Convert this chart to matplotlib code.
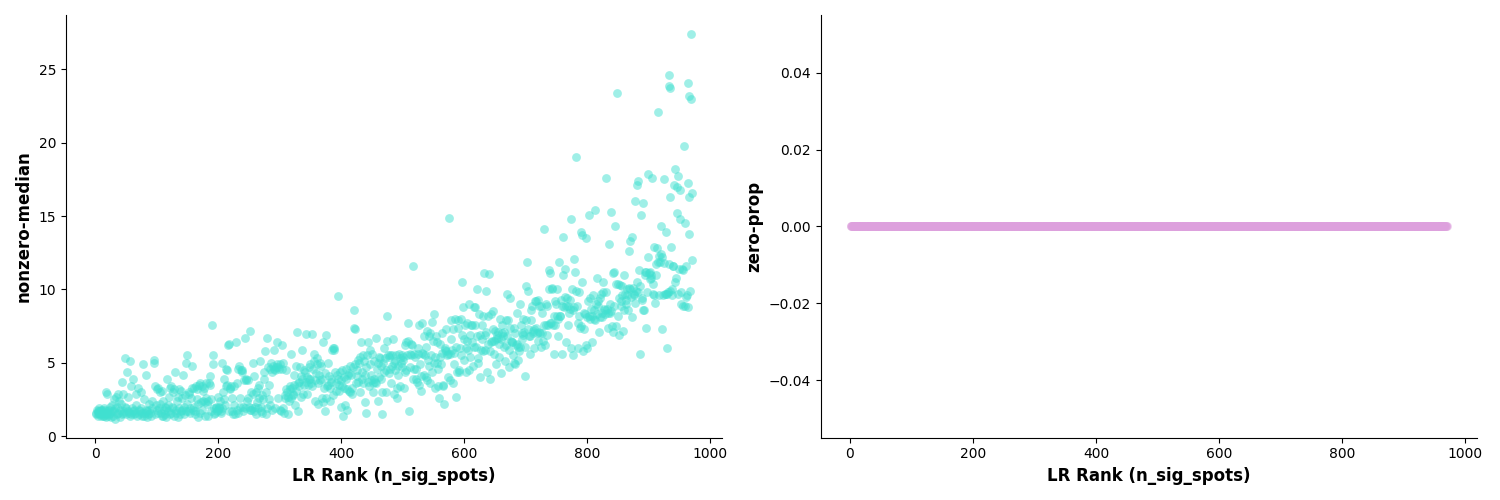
"""Scatter of nonzero-median and zero-prop against LR rank."""
import numpy as np
import matplotlib
matplotlib.use("Agg")
import matplotlib.pyplot as plt

band_0 = [(1,1.6),(2,1.5),(3,1.8),(4,1.4),(5,1.7),(6,1.9),(7,1.5),(8,1.6),(9,1.4),(10,1.7),(11,1.5),(12,1.8),
          (13,1.6),(14,1.4),(15,1.9),(16,1.6),(17,3.0),(18,1.5),(19,1.7),(20,2.9),(21,1.4),(22,1.8),(24,1.6),
          (25,2.0),(26,1.3),(28,2.1),(30,1.7),(31,2.5),(32,1.2),(34,2.7),(35,1.5),(36,2.0),(38,2.9),(40,1.3),
          (41,1.8),(42,2.2),(44,3.7),(45,1.6),(46,2.9),(48,5.3),(49,2.0),(50,1.5),(52,4.4),(53,2.7),(54,1.7),
          (56,5.1),(57,1.4),(58,3.4),(60,1.9),(62,3.9),(63,1.5),(65,1.6),(67,2.1),(70,3.3),(71,1.5),(72,1.8),
          (74,3.0),(76,1.6),(78,4.9),(79,2.5),(80,1.4),(82,4.2),(83,1.8),(85,1.3),(87,2.2),(90,1.6),(92,1.9),
          (95,5.2),(96,5.0),(97,3.4),(98,1.5),(99,2.1)]
band_100 = [(101,1.8),(103,3.3),(105,2.2),(107,1.6),(109,3.1),(111,1.4),(113,2.0),(115,1.3),(117,3.9),(118,1.7),
            (120,2.7),(122,1.5),(123,3.4),(125,2.0),(127,3.0),(128,1.4),(130,4.4),(131,1.8),(133,2.4),(135,1.3),
            (137,3.2),(139,1.7),(141,2.6),(143,4.2),(145,1.5),(147,5.0),(149,2.2),(150,5.5),(151,1.7),(153,2.9),
            (155,1.6),(157,4.8),(158,3.3),(160,2.0),(162,1.5),(164,3.4),(166,2.5),(168,1.3),(170,3.6),(172,2.3),
            (174,1.8),(176,3.1),(178,1.4),(180,2.6),(182,2.2),(185,3.6),(186,4.1),(188,1.7),(190,7.6),(191,5.5),
            (192,4.9),(194,1.5),(196,2.0),(198,1.7),(199,2.7)]
band_200 = [(201,1.9),(203,2.4),(205,1.6),(207,5.0),(208,3.0),(210,3.9),(211,2.1),(213,4.6),(215,3.5),(216,6.2),
            (217,6.3),(218,1.7),(220,3.2),(222,2.6),(224,1.5),(226,2.1),(229,6.4),(230,3.6),(232,1.6),(234,4.8),
            (236,2.6),(238,4.5),(240,1.7),(243,6.7),(245,3.8),(247,2.4),(249,3.8),(250,2.0),(252,7.2),(254,1.8),
            (256,2.9),(257,5.0),(259,4.1),(261,1.5),(263,2.3),(265,3.3),(268,5.1),(270,1.7),(272,2.8),(274,3.9),
            (276,5.8),(278,1.5),(280,6.7),(282,3.5),(284,2.1),(286,5.0),(288,4.4),(290,5.9),(292,1.9),(294,4.7),
            (296,6.4),(298,2.6),(299,4.6)]
band_300 = [(301,1.8),(303,6.2),(305,5.0),(307,1.6),(309,2.8),(311,3.2),(313,1.5),(315,2.4),(317,3.4),(319,5.6),
            (321,2.9),(323,4.2),(325,2.1),(328,7.1),(329,1.7),(331,3.7),(333,4.7),(335,2.7),(337,5.9),(339,3.5),
            (341,4.4),(343,6.95),(345,2.9),(347,3.9),(349,4.9),(351,3.6),(353,6.95),(355,5.6),(357,2.4),(359,4.3),
            (361,5.3),(363,2.2),(365,3.8),(367,4.8),(369,2.6),(371,6.4),(373,1.7),(375,6.9),(377,3.4),(379,5.0),
            (381,2.4),(383,3.7),(385,5.9),(387,2.8),(388,6.0),(390,4.4),(392,3.1),(394,3.9),(395,9.55),(397,3.5),
            (399,2.0)]
band_400 = [(401,4.5),(403,1.4),(405,3.3),(407,3.9),(409,1.8),(411,4.2),(413,3.1),(415,4.8),(417,2.9),(420,8.6),
            (421,7.4),(423,7.3),(424,3.6),(426,4.5),(428,5.2),(430,3.0),(432,6.4),(434,3.9),(436,5.5),(438,2.3),
            (440,1.6),(441,4.7),(443,6.4),(445,3.4),(447,5.9),(449,4.2),(451,3.0),(453,5.1),(455,3.7),(456,6.7),
            (458,4.6),(460,2.4),(462,5.4),(464,3.9),(466,1.5),(468,5.0),(470,6.0),(472,3.0),(474,8.2),(475,6.5),
            (477,4.3),(479,5.5),(481,3.6),(483,4.8),(484,6.6),(486,2.9),(488,5.1),(490,2.6),(492,4.2),(494,5.6),
            (496,3.4),(498,4.7)]
band_500 = [(500,5.2),(502,3.3),(504,6.2),(506,4.5),(508,7.7),(510,1.7),(512,5.6),(514,6.3),(516,11.6),(518,4.6),
            (520,5.4),(522,3.9),(524,6.0),(526,3.5),(528,4.9),(530,3.1),(531,7.7),(533,5.6),(535,4.2),(537,6.1),
            (539,3.8),(541,5.2),(543,6.8),(545,3.6),(548,7.8),(550,8.35),(551,5.0),(553,3.3),(555,6.4),(557,4.6),
            (559,2.6),(561,5.4),(563,7.0),(565,3.4),(567,2.2),(569,5.9),(571,7.3),(573,4.0),(575,14.9),(577,5.6),
            (579,6.6),(581,3.6),(583,4.9),(585,8.0),(587,2.7),(589,7.4),(591,4.5),(593,6.0),(595,8.0),(597,10.5),
            (598,8.8),(599,5.2)]
band_600 = [(601,7.6),(603,4.4),(605,6.5),(608,9.0),(610,5.4),(612,7.6),(614,4.8),(616,6.1),(618,8.8),(620,10.0),
            (622,5.0),(624,8.3),(626,4.0),(628,7.6),(630,5.8),(632,11.1),(634,6.9),(635,9.9),(637,4.4),(639,8.2),
            (640,11.05),(642,3.9),(644,6.4),(646,8.5),(648,5.6),(650,7.2),(652,4.9),(654,6.7),(656,5.4),(658,8.0),
            (660,4.3),(662,7.0),(664,6.1),(666,5.1),(668,7.9),(670,9.7),(672,4.7),(674,7.4),(675,9.4),(677,6.4),
            (679,5.5),(681,5.0),(683,7.0),(685,8.4),(687,6.1),(689,5.8),(690,9.0),(692,7.6),(694,6.6),(696,8.0),
            (698,6.1),(699,4.1)]
band_700 = [(700,10.2),(701,7.9),(702,11.9),(703,9.9),(705,6.8),(707,5.6),(709,8.6),(711,7.2),(713,6.0),(715,9.2),
            (717,7.4),(719,6.5),(721,8.9),(723,7.0),(725,6.1),(727,8.4),(729,14.1),(731,6.2),(733,7.6),(735,8.9),
            (738,11.3),(739,11.1),(741,7.7),(743,10.1),(745,5.6),(747,7.6),(749,9.0),(750,10.0),(752,6.8),(754,11.9),
            (756,8.2),(758,5.6),(760,13.6),(761,11.0),(763,11.4),(765,6.4),(767,9.4),(769,7.6),(771,8.7),(773,6.0),
            (774,14.8),(776,5.5),(778,12.1),(780,11.2),(781,19.0),(783,8.9),(785,6.0),(787,9.8),(789,7.5),(790,13.9),
            (791,10.5),(792,13.7),(793,5.8),(795,7.3),(796,8.3),(797,13.5),(799,6.0)]
band_800 = [(801,9.2),(803,15.1),(805,8.0),(807,6.4),(809,9.6),(812,15.4),(813,7.9),(815,10.8),(817,8.9),(819,7.1),
            (821,9.4),(823,8.1),(825,10.5),(827,8.7),(830,17.6),(831,9.8),(833,7.4),(835,13.1),(837,8.4),(839,15.3),
            (841,7.1),(843,11.2),(845,14.3),(847,7.5),(848,23.4),(850,10.4),(852,6.9),(854,8.9),(856,9.6),(858,7.2),
            (860,11.0),(862,9.3),(864,10.0),(866,8.6),(868,12.6),(870,13.3),(872,8.1),(873,13.6),(875,9.7),(877,9.1),
            (878,16.0),(880,10.5),(881,17.1),(882,17.4),(884,11.3),(885,5.6),(887,15.1),(889,9.4),(890,15.9),(892,8.6),
            (894,11.2),(895,7.4),(897,9.8),(898,17.9),(899,12.2)]
band_900 = [(901,11.2),(903,10.8),(905,17.6),(906,9.7),(908,12.9),(910,9.1),(911,11.0),(913,12.8),(915,22.1),(917,9.6),
            (919,12.4),(920,14.3),(922,7.3),(924,11.8),(925,17.5),(927,9.7),(928,13.9),(929,6.0),(931,9.8),(933,24.6),
            (933,23.9),(935,23.7),(935,16.3),(936,12.9),(938,10.0),(940,11.6),(941,17.1),(943,18.2),(944,10.8),(945,15.2),
            (946,17.0),(947,9.7),(948,17.7),(949,11.4),(950,14.8),(951,16.8),(953,9.0),(955,11.3),(957,19.8),(958,14.5),
            (959,8.9),(960,11.6),(961,9.5),(963,24.05),(963,17.25),(964,8.8),(965,23.2),(965,16.3),(966,13.8),(967,9.9),
            (968,27.4),(968,22.95),(970,16.6),(970,12.0)]
# second pass over the denser clusters of the cloud
dense_low = [(4,1.6),(6,1.7),(9,1.8),(11,1.6),(13,1.4),(16,1.8),(18,1.3),(20,1.6),(23,1.5),(27,1.7),(29,1.4),(33,1.9),
             (37,1.6),(39,2.4),(43,1.5),(47,1.7),(51,1.9),(55,1.6),(59,1.5),(61,1.7),(64,1.8),(66,2.9),(68,1.4),(73,1.7),
             (75,1.9),(77,1.4),(81,1.6),(84,1.7),(86,1.5),(88,1.8),(91,1.4),(93,2.4),(100,3.2),(102,1.6),(104,1.9),
             (106,3.0),(108,1.4),(110,2.4),(112,1.8),(114,1.5),(116,1.9),(119,2.1),(121,3.3),(124,1.6),(126,1.9),
             (129,3.2),(132,1.6),(134,2.7),(136,1.9),(138,1.5),(140,3.1),(142,1.8),(144,2.0),(146,2.8),(148,1.7),
             (152,3.0),(154,1.9),(156,2.6),(159,1.8),(161,3.3),(163,1.7),(165,3.2),(167,2.2),(169,3.5),(171,1.6),
             (173,3.4),(175,2.4),(177,3.3),(179,2.3),(181,3.6),(183,1.4),(184,2.4),(187,3.5),(189,2.5),(193,1.9),
             (195,1.6),(197,1.9),(200,1.8),(202,2.0),(204,1.7),(206,1.9),(209,2.5),(212,3.4),(214,4.5),(219,3.3),
             (221,3.4),(223,1.7),(225,3.4),(227,1.5),(231,1.8),(233,4.6),(235,2.0),(237,4.5),(239,4.4),(241,2.0),
             (242,3.8),(244,1.9),(246,3.9),(248,2.6),(251,1.8),(253,3.0),(255,1.9),(258,1.7),(260,2.0),(262,3.0),
             (264,1.9),(266,2.6),(267,3.5),(269,2.0),(271,1.6),(273,2.5),(275,4.4),(277,3.0),(279,1.9),(281,4.7),
             (283,2.5),(285,4.6),(287,1.8),(289,4.8),(291,4.6),(293,4.5),(295,4.9),(297,4.7)]
dense_mid = [(300,4.9),(302,1.7),(304,4.6),(306,1.9),(308,2.6),(310,4.5),(312,3.0),(314,2.7),(316,3.2),(318,2.6),
             (320,3.3),(322,2.8),(324,3.5),(326,3.1),(327,4.8),(330,3.6),(332,3.4),(334,4.1),(336,3.9),(338,2.9),
             (340,4.5),(342,3.7),(344,4.0),(346,3.5),(348,4.7),(350,3.9),(352,3.4),(354,4.6),(356,5.1),(358,3.8),
             (360,4.9),(362,3.6),(364,4.2),(366,5.0),(368,3.9),(370,2.3),(372,3.3),(374,4.3),(376,2.6),(378,3.5),
             (380,4.1),(382,3.3),(384,3.9),(386,6.0),(389,5.9),(391,3.6),(393,4.2),(396,3.1),(398,4.4),(400,3.8),
             (402,3.4),(404,4.0),(406,2.1),(408,4.6),(410,3.2),(412,4.3),(414,3.0),(416,4.2),(418,3.3),(419,4.7),
             (422,4.9),(425,4.1),(427,3.7),(429,5.0),(431,5.4),(433,4.4),(435,3.6),(437,5.1),(439,4.2),(442,5.5),
             (444,3.7),(446,4.9),(448,3.8),(450,5.6),(452,3.6),(454,3.9),(457,3.6),(459,5.0),(461,4.0),(463,5.3),
             (465,4.8),(467,3.0),(469,4.4),(471,5.3),(473,4.5),(476,5.5),(478,5.4),(480,4.6),(482,5.5),(485,5.0),
             (487,4.5),(489,5.5),(491,3.3),(493,4.8),(495,5.3),(497,5.0),(499,5.5),(501,5.4),(503,4.4),(505,6.4),
             (507,5.5),(509,6.5),(511,4.7),(513,5.5),(515,6.2),(517,3.9),(519,5.6),(521,4.6),(523,3.7),(525,5.6),
             (527,7.6),(529,4.1),(532,5.7),(534,6.8),(536,5.5),(538,4.0),(540,7.2),(542,4.8),(544,7.0),(546,5.5),
             (547,4.4),(549,6.5),(552,5.4),(554,6.8),(556,5.0),(558,3.4),(560,6.3),(562,4.9),(564,5.7),(566,3.5),
             (568,6.0),(570,5.8),(572,5.5),(574,5.6),(576,3.8),(578,7.9),(580,5.9),(582,7.3),(584,5.7),(586,6.1),
             (588,4.4),(590,7.9),(592,4.4),(594,5.5),(596,6.9),(600,6.6)]
dense_high = [(602,6.0),(604,7.7),(606,5.9),(607,4.5),(609,6.9),(611,7.6),(613,6.4),(615,8.8),(617,7.6),(619,6.1),
              (621,6.8),(623,5.3),(625,6.9),(627,5.9),(629,6.6),(631,8.2),(633,5.9),(636,7.1),(638,6.3),(641,5.8),
              (643,8.3),(645,6.5),(647,7.3),(649,6.5),(651,6.6),(653,6.9),(655,7.1),(657,6.3),(659,6.6),(661,7.6),
              (663,6.8),(665,7.1),(667,6.2),(669,6.8),(671,7.9),(673,5.9),(676,6.5),(678,6.4),(680,7.4),(682,4.95),
              (684,6.2),(686,6.3),(688,5.2),(691,6.1),(693,7.0),(695,6.9),(697,7.1),(704,7.3),(706,6.8),(708,7.9),
              (710,8.9),(712,7.0),(714,7.3),(716,9.2),(718,7.0),(720,9.3),(722,7.1),(724,8.9),(726,7.0),(728,6.5),
              (730,7.6),(732,9.0),(734,6.9),(736,7.6),(737,10.0),(740,7.7),(742,10.05),(744,7.6),(746,8.2),(748,9.2),
              (751,8.2),(753,8.0),(755,8.2),(757,9.3),(759,8.9),(762,8.8),(764,9.5),(766,8.9),(768,8.9),(770,8.4),
              (772,9.3),(775,10.0),(777,8.6),(779,8.8),(782,9.9),(784,7.7),(786,8.2),(788,7.4),(794,8.4),(798,6.2),
              (800,8.1),(802,8.2),(804,9.4),(806,8.7),(808,8.2),(810,8.0),(811,8.6),(814,9.0),(816,8.3),(818,9.2),
              (820,8.1),(822,9.7),(824,8.4),(826,9.8),(828,8.6),(829,8.3),(832,8.7),(834,8.4),(836,9.0),(838,8.5),
              (840,7.5),(842,11.1),(844,8.9),(846,10.4),(849,8.2),(851,9.4),(853,10.3),(855,9.2),(857,10.2),(859,8.6),
              (861,9.7),(863,9.0),(865,9.6),(867,10.1),(869,10.0),(871,9.5),(874,10.1),(876,9.6),(879,9.9),(883,9.8),
              (886,10.2),(888,9.3),(891,8.6),(893,11.0),(896,11.2),(900,11.1),(902,10.7),(904,11.0),(907,10.4),(909,9.6),
              (912,11.7),(914,11.9),(916,12.3),(918,11.9),(921,12.2),(923,9.6),(926,9.7),(930,9.7),(932,11.7),(934,9.9),
              (937,9.6),(939,11.6),(942,10.5),(952,9.8),(954,11.4),(956,8.9),(962,9.6)]

bands = [band_0, band_100, band_200, band_300, band_400, band_500, band_600, band_700, band_800, band_900,
         dense_low, dense_mid, dense_high]
lr_rank = [p[0] for b in bands for p in b]
nonzero_median = [p[1] for b in bands for p in b]

# zero-prop is 0 at every rank, ranks run without gaps
rank_all = np.arange(1, 971)
zero_prop = np.zeros(970)

fig, axes = plt.subplots(1, 2, figsize=(15, 5))

axes[0].scatter(lr_rank, nonzero_median, s=40, color="#40E0D0", alpha=0.5, linewidths=0)
axes[0].set_ylabel("nonzero-median", fontsize=12, fontweight="bold")
axes[0].set_yticks([0, 5, 10, 15, 20, 25])

axes[1].scatter(rank_all, zero_prop, s=40, color="#DDA0DD", alpha=0.5, linewidths=0)
axes[1].set_ylabel("zero-prop", fontsize=12, fontweight="bold")

for ax in axes:
    ax.set_xlabel("LR Rank (n_sig_spots)", fontsize=12, fontweight="bold")
    ax.set_xticks([0, 200, 400, 600, 800, 1000])
    ax.spines["top"].set_visible(False)
    ax.spines["right"].set_visible(False)

plt.tight_layout()
fig.savefig("out.png", dpi=100)
